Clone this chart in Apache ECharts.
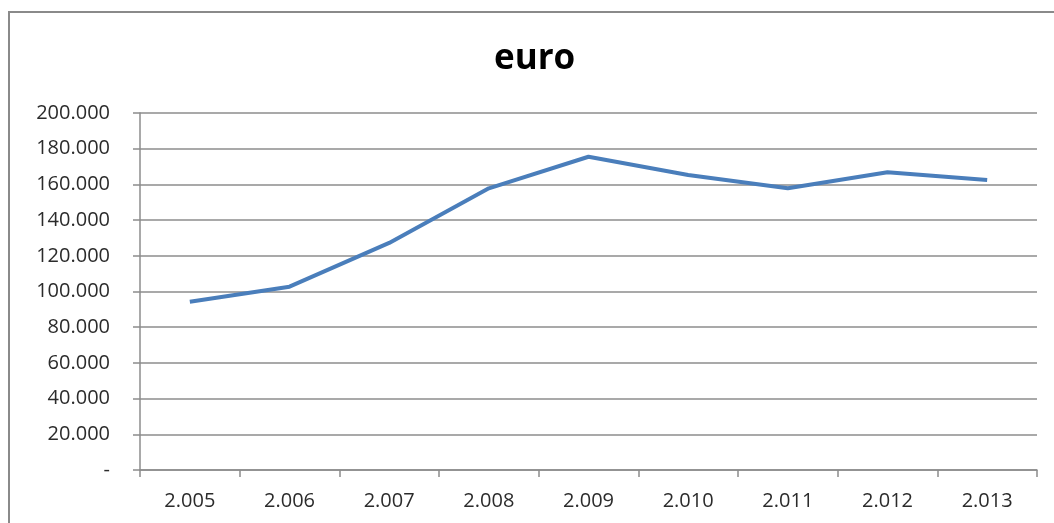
<!DOCTYPE html>
<html>
<head>
<meta charset="utf-8">
<script src="https://cdn.jsdelivr.net/npm/echarts@6/dist/echarts.min.js"></script>
<style>
  html, body { margin: 0; padding: 0; background: #fff; }
  #chart { width: 1054px; height: 523px; }
</style>
</head>
<body>
<div id="chart"></div>
<script>
var years = ['2.005', '2.006', '2.007', '2.008', '2.009', '2.010', '2.011', '2.012', '2.013'];
var euro = [94.3, 102.7, 127.2, 157.8, 175.5, 165.3, 157.8, 166.8, 162.5];

var chart = echarts.init(document.getElementById('chart'));
var option = {
    animation: false,
    backgroundColor: '#fff',
    title: {
        text: 'euro',
        left: 494,
        top: 42,
        padding: 0,
        textStyle: { fontFamily: 'Open Sans', fontSize: 35, fontWeight: 'bold', color: '#000' }
    },
    graphic: [{
        type: 'rect',
        shape: { x: 9, y: 12, width: 1100, height: 600 },
        style: { fill: 'none', stroke: '#8a8a8a', lineWidth: 2 },
        silent: true
    }],
    grid: { left: 140, right: 17, top: 113, bottom: 53 },
    xAxis: {
        type: 'category',
        data: years,
        boundaryGap: true,
        axisLine: { lineStyle: { color: '#8c8c8c', width: 1.5 } },
        axisTick: { show: true, length: 7, lineStyle: { color: '#8c8c8c', width: 1.5 } },
        axisLabel: { margin: 21, fontFamily: 'Open Sans', fontSize: 20, color: '#2b2b2b' }
    },
    yAxis: {
        type: 'value',
        min: 0,
        max: 200,
        interval: 20,
        axisLine: { show: true, lineStyle: { color: '#8c8c8c', width: 1.5 } },
        axisTick: { show: true, length: 7, lineStyle: { color: '#8c8c8c', width: 1.5 } },
        splitLine: { lineStyle: { color: '#8c8c8c', width: 1.5 } },
        axisLabel: {
            margin: 30,
            fontFamily: 'Open Sans',
            fontSize: 20,
            color: '#2b2b2b',
            formatter: function (v) { return v === 0 ? '-' : v.toFixed(3); }
        }
    },
    series: [{
        type: 'line',
        data: euro,
        symbol: 'none',
        lineStyle: { color: '#4a7ebb', width: 4 }
    }]
};
chart.setOption(option);
</script>
</body>
</html>
